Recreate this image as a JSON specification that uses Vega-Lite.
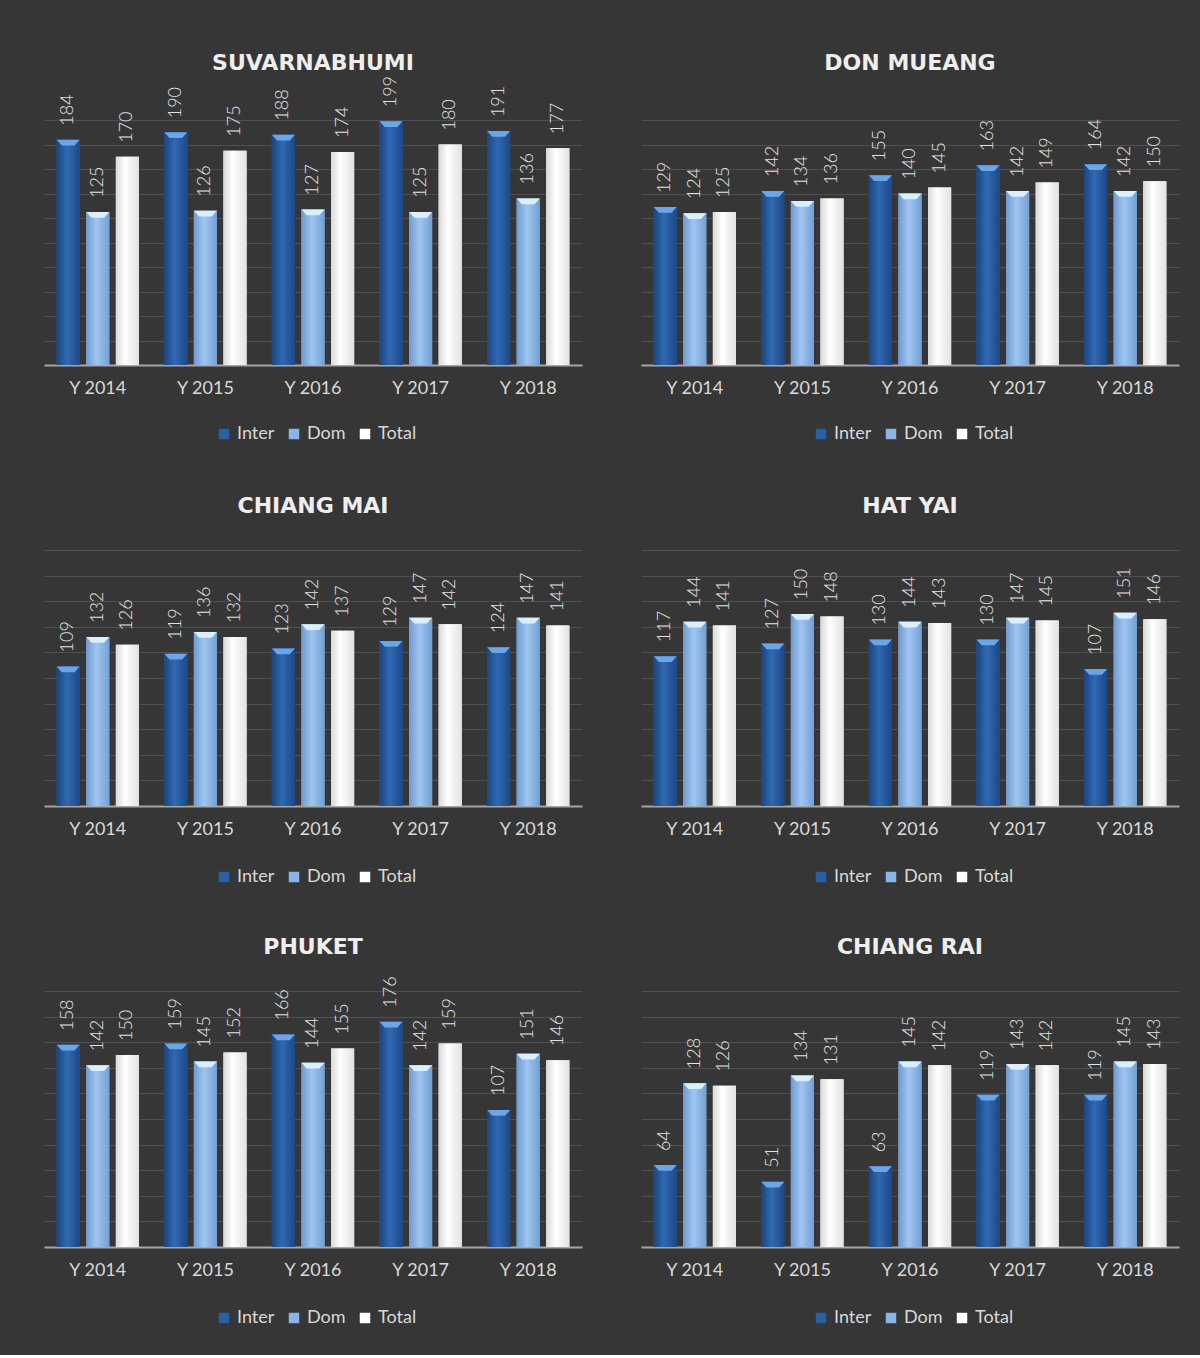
{
  "$schema": "https://vega.github.io/schema/vega-lite/v6.json",
  "background": "#363636",
  "padding": {"left": 44, "right": 21, "top": 52, "bottom": 28},
  "datasets": {
    "airports": [
      {"airport": "SUVARNABHUMI", "year": "Y 2014", "series": "Inter", "value": 184},
      {"airport": "SUVARNABHUMI", "year": "Y 2014", "series": "Dom", "value": 125},
      {"airport": "SUVARNABHUMI", "year": "Y 2014", "series": "Total", "value": 170},
      {"airport": "SUVARNABHUMI", "year": "Y 2015", "series": "Inter", "value": 190},
      {"airport": "SUVARNABHUMI", "year": "Y 2015", "series": "Dom", "value": 126},
      {"airport": "SUVARNABHUMI", "year": "Y 2015", "series": "Total", "value": 175},
      {"airport": "SUVARNABHUMI", "year": "Y 2016", "series": "Inter", "value": 188},
      {"airport": "SUVARNABHUMI", "year": "Y 2016", "series": "Dom", "value": 127},
      {"airport": "SUVARNABHUMI", "year": "Y 2016", "series": "Total", "value": 174},
      {"airport": "SUVARNABHUMI", "year": "Y 2017", "series": "Inter", "value": 199},
      {"airport": "SUVARNABHUMI", "year": "Y 2017", "series": "Dom", "value": 125},
      {"airport": "SUVARNABHUMI", "year": "Y 2017", "series": "Total", "value": 180},
      {"airport": "SUVARNABHUMI", "year": "Y 2018", "series": "Inter", "value": 191},
      {"airport": "SUVARNABHUMI", "year": "Y 2018", "series": "Dom", "value": 136},
      {"airport": "SUVARNABHUMI", "year": "Y 2018", "series": "Total", "value": 177},
      {"airport": "DON MUEANG", "year": "Y 2014", "series": "Inter", "value": 129},
      {"airport": "DON MUEANG", "year": "Y 2014", "series": "Dom", "value": 124},
      {"airport": "DON MUEANG", "year": "Y 2014", "series": "Total", "value": 125},
      {"airport": "DON MUEANG", "year": "Y 2015", "series": "Inter", "value": 142},
      {"airport": "DON MUEANG", "year": "Y 2015", "series": "Dom", "value": 134},
      {"airport": "DON MUEANG", "year": "Y 2015", "series": "Total", "value": 136},
      {"airport": "DON MUEANG", "year": "Y 2016", "series": "Inter", "value": 155},
      {"airport": "DON MUEANG", "year": "Y 2016", "series": "Dom", "value": 140},
      {"airport": "DON MUEANG", "year": "Y 2016", "series": "Total", "value": 145},
      {"airport": "DON MUEANG", "year": "Y 2017", "series": "Inter", "value": 163},
      {"airport": "DON MUEANG", "year": "Y 2017", "series": "Dom", "value": 142},
      {"airport": "DON MUEANG", "year": "Y 2017", "series": "Total", "value": 149},
      {"airport": "DON MUEANG", "year": "Y 2018", "series": "Inter", "value": 164},
      {"airport": "DON MUEANG", "year": "Y 2018", "series": "Dom", "value": 142},
      {"airport": "DON MUEANG", "year": "Y 2018", "series": "Total", "value": 150},
      {"airport": "CHIANG MAI", "year": "Y 2014", "series": "Inter", "value": 109},
      {"airport": "CHIANG MAI", "year": "Y 2014", "series": "Dom", "value": 132},
      {"airport": "CHIANG MAI", "year": "Y 2014", "series": "Total", "value": 126},
      {"airport": "CHIANG MAI", "year": "Y 2015", "series": "Inter", "value": 119},
      {"airport": "CHIANG MAI", "year": "Y 2015", "series": "Dom", "value": 136},
      {"airport": "CHIANG MAI", "year": "Y 2015", "series": "Total", "value": 132},
      {"airport": "CHIANG MAI", "year": "Y 2016", "series": "Inter", "value": 123},
      {"airport": "CHIANG MAI", "year": "Y 2016", "series": "Dom", "value": 142},
      {"airport": "CHIANG MAI", "year": "Y 2016", "series": "Total", "value": 137},
      {"airport": "CHIANG MAI", "year": "Y 2017", "series": "Inter", "value": 129},
      {"airport": "CHIANG MAI", "year": "Y 2017", "series": "Dom", "value": 147},
      {"airport": "CHIANG MAI", "year": "Y 2017", "series": "Total", "value": 142},
      {"airport": "CHIANG MAI", "year": "Y 2018", "series": "Inter", "value": 124},
      {"airport": "CHIANG MAI", "year": "Y 2018", "series": "Dom", "value": 147},
      {"airport": "CHIANG MAI", "year": "Y 2018", "series": "Total", "value": 141},
      {"airport": "HAT YAI", "year": "Y 2014", "series": "Inter", "value": 117},
      {"airport": "HAT YAI", "year": "Y 2014", "series": "Dom", "value": 144},
      {"airport": "HAT YAI", "year": "Y 2014", "series": "Total", "value": 141},
      {"airport": "HAT YAI", "year": "Y 2015", "series": "Inter", "value": 127},
      {"airport": "HAT YAI", "year": "Y 2015", "series": "Dom", "value": 150},
      {"airport": "HAT YAI", "year": "Y 2015", "series": "Total", "value": 148},
      {"airport": "HAT YAI", "year": "Y 2016", "series": "Inter", "value": 130},
      {"airport": "HAT YAI", "year": "Y 2016", "series": "Dom", "value": 144},
      {"airport": "HAT YAI", "year": "Y 2016", "series": "Total", "value": 143},
      {"airport": "HAT YAI", "year": "Y 2017", "series": "Inter", "value": 130},
      {"airport": "HAT YAI", "year": "Y 2017", "series": "Dom", "value": 147},
      {"airport": "HAT YAI", "year": "Y 2017", "series": "Total", "value": 145},
      {"airport": "HAT YAI", "year": "Y 2018", "series": "Inter", "value": 107},
      {"airport": "HAT YAI", "year": "Y 2018", "series": "Dom", "value": 151},
      {"airport": "HAT YAI", "year": "Y 2018", "series": "Total", "value": 146},
      {"airport": "PHUKET", "year": "Y 2014", "series": "Inter", "value": 158},
      {"airport": "PHUKET", "year": "Y 2014", "series": "Dom", "value": 142},
      {"airport": "PHUKET", "year": "Y 2014", "series": "Total", "value": 150},
      {"airport": "PHUKET", "year": "Y 2015", "series": "Inter", "value": 159},
      {"airport": "PHUKET", "year": "Y 2015", "series": "Dom", "value": 145},
      {"airport": "PHUKET", "year": "Y 2015", "series": "Total", "value": 152},
      {"airport": "PHUKET", "year": "Y 2016", "series": "Inter", "value": 166},
      {"airport": "PHUKET", "year": "Y 2016", "series": "Dom", "value": 144},
      {"airport": "PHUKET", "year": "Y 2016", "series": "Total", "value": 155},
      {"airport": "PHUKET", "year": "Y 2017", "series": "Inter", "value": 176},
      {"airport": "PHUKET", "year": "Y 2017", "series": "Dom", "value": 142},
      {"airport": "PHUKET", "year": "Y 2017", "series": "Total", "value": 159},
      {"airport": "PHUKET", "year": "Y 2018", "series": "Inter", "value": 107},
      {"airport": "PHUKET", "year": "Y 2018", "series": "Dom", "value": 151},
      {"airport": "PHUKET", "year": "Y 2018", "series": "Total", "value": 146},
      {"airport": "CHIANG RAI", "year": "Y 2014", "series": "Inter", "value": 64},
      {"airport": "CHIANG RAI", "year": "Y 2014", "series": "Dom", "value": 128},
      {"airport": "CHIANG RAI", "year": "Y 2014", "series": "Total", "value": 126},
      {"airport": "CHIANG RAI", "year": "Y 2015", "series": "Inter", "value": 51},
      {"airport": "CHIANG RAI", "year": "Y 2015", "series": "Dom", "value": 134},
      {"airport": "CHIANG RAI", "year": "Y 2015", "series": "Total", "value": 131},
      {"airport": "CHIANG RAI", "year": "Y 2016", "series": "Inter", "value": 63},
      {"airport": "CHIANG RAI", "year": "Y 2016", "series": "Dom", "value": 145},
      {"airport": "CHIANG RAI", "year": "Y 2016", "series": "Total", "value": 142},
      {"airport": "CHIANG RAI", "year": "Y 2017", "series": "Inter", "value": 119},
      {"airport": "CHIANG RAI", "year": "Y 2017", "series": "Dom", "value": 143},
      {"airport": "CHIANG RAI", "year": "Y 2017", "series": "Total", "value": 142},
      {"airport": "CHIANG RAI", "year": "Y 2018", "series": "Inter", "value": 119},
      {"airport": "CHIANG RAI", "year": "Y 2018", "series": "Dom", "value": 145},
      {"airport": "CHIANG RAI", "year": "Y 2018", "series": "Total", "value": 143}
    ]
  },
  "data": {"name": "airports"},
  "columns": 2,
  "bounds": "flush",
  "spacing": {"row": 152, "column": 59},
  "resolve": {"scale": {"y": "independent", "color": "independent", "x": "independent", "xOffset": "independent"}, "legend": {"color": "independent"}},
  "concat": [
    {
      "title": "SUVARNABHUMI",
      "width": 538, "height": 291,
      "transform": [{"filter": "datum.airport === 'SUVARNABHUMI'"}],
      "encoding": {
        "x": {"field": "year", "type": "nominal", "sort": null, "scale": {"paddingInner": 0.18, "paddingOuter": 0.09}},
        "xOffset": {"field": "series", "type": "nominal", "sort": ["Inter", "Dom", "Total"], "scale": {"domain": ["Inter", "Dom", "Total"], "paddingInner": 0.22, "paddingOuter": 0.1}},
        "y": {"field": "value", "type": "quantitative", "scale": {"domain": [0, 237.6], "nice": false, "zero": true}, "axis": {"values": [0, 20, 40, 60, 80, 100, 120, 140, 160, 180, 200]}}
      },
      "layer": [
        {"mark": {"type": "bar"}, "encoding": {"color": {"field": "series", "type": "nominal", "scale": {"domain": ["Inter", "Dom", "Total"], "range": ["#2a5fa6", "#8ab4e6", "#ffffff"]}}}},
        {"transform": [{"filter": "datum.series === 'Inter'"}], "mark": {"type": "bar", "color": {"gradient": "linear", "x1": 0, "x2": 1, "y1": 0, "y2": 0, "stops": [{"offset": 0, "color": "#1b4580"}, {"offset": 0.45, "color": "#3069b3"}, {"offset": 1, "color": "#1d4886"}]}}},
        {"transform": [{"filter": "datum.series === 'Dom'"}], "mark": {"type": "bar", "color": {"gradient": "linear", "x1": 0, "x2": 1, "y1": 0, "y2": 0, "stops": [{"offset": 0, "color": "#6e9bd2"}, {"offset": 0.45, "color": "#a0c6f0"}, {"offset": 1, "color": "#729fd5"}]}}},
        {"transform": [{"filter": "datum.series === 'Total'"}], "mark": {"type": "bar", "color": {"gradient": "linear", "x1": 0, "x2": 1, "y1": 0, "y2": 0, "stops": [{"offset": 0, "color": "#d9d9d9"}, {"offset": 0.4, "color": "#ffffff"}, {"offset": 1, "color": "#e2e2e2"}]}}},
        {"transform": [{"filter": "datum.series === 'Inter'"}], "mark": {"type": "point", "shape": "M-1,0L1,0L0.55,0.5L-0.55,0.5Z", "size": 529, "filled": true, "opacity": 1, "color": "#6aa6e8"}},
        {"transform": [{"filter": "datum.series === 'Dom'"}], "mark": {"type": "point", "shape": "M-1,0L1,0L0.55,0.5L-0.55,0.5Z", "size": 529, "filled": true, "opacity": 1, "color": "#dcefff"}},
        {"mark": {"type": "text", "angle": 270, "align": "left", "baseline": "middle", "dx": 14, "color": "#e3e3e3", "font": "Lato", "fontSize": 18, "fontWeight": 300}, "encoding": {"text": {"field": "value", "type": "quantitative"}}}
      ]
    },
    {
      "title": "DON MUEANG",
      "width": 538, "height": 291,
      "transform": [{"filter": "datum.airport === 'DON MUEANG'"}],
      "encoding": {
        "x": {"field": "year", "type": "nominal", "sort": null, "scale": {"paddingInner": 0.18, "paddingOuter": 0.09}},
        "xOffset": {"field": "series", "type": "nominal", "sort": ["Inter", "Dom", "Total"], "scale": {"domain": ["Inter", "Dom", "Total"], "paddingInner": 0.22, "paddingOuter": 0.1}},
        "y": {"field": "value", "type": "quantitative", "scale": {"domain": [0, 237.6], "nice": false, "zero": true}, "axis": {"values": [0, 20, 40, 60, 80, 100, 120, 140, 160, 180, 200]}}
      },
      "layer": [
        {"mark": {"type": "bar"}, "encoding": {"color": {"field": "series", "type": "nominal", "scale": {"domain": ["Inter", "Dom", "Total"], "range": ["#2a5fa6", "#8ab4e6", "#ffffff"]}}}},
        {"transform": [{"filter": "datum.series === 'Inter'"}], "mark": {"type": "bar", "color": {"gradient": "linear", "x1": 0, "x2": 1, "y1": 0, "y2": 0, "stops": [{"offset": 0, "color": "#1b4580"}, {"offset": 0.45, "color": "#3069b3"}, {"offset": 1, "color": "#1d4886"}]}}},
        {"transform": [{"filter": "datum.series === 'Dom'"}], "mark": {"type": "bar", "color": {"gradient": "linear", "x1": 0, "x2": 1, "y1": 0, "y2": 0, "stops": [{"offset": 0, "color": "#6e9bd2"}, {"offset": 0.45, "color": "#a0c6f0"}, {"offset": 1, "color": "#729fd5"}]}}},
        {"transform": [{"filter": "datum.series === 'Total'"}], "mark": {"type": "bar", "color": {"gradient": "linear", "x1": 0, "x2": 1, "y1": 0, "y2": 0, "stops": [{"offset": 0, "color": "#d9d9d9"}, {"offset": 0.4, "color": "#ffffff"}, {"offset": 1, "color": "#e2e2e2"}]}}},
        {"transform": [{"filter": "datum.series === 'Inter'"}], "mark": {"type": "point", "shape": "M-1,0L1,0L0.55,0.5L-0.55,0.5Z", "size": 529, "filled": true, "opacity": 1, "color": "#6aa6e8"}},
        {"transform": [{"filter": "datum.series === 'Dom'"}], "mark": {"type": "point", "shape": "M-1,0L1,0L0.55,0.5L-0.55,0.5Z", "size": 529, "filled": true, "opacity": 1, "color": "#dcefff"}},
        {"mark": {"type": "text", "angle": 270, "align": "left", "baseline": "middle", "dx": 14, "color": "#e3e3e3", "font": "Lato", "fontSize": 18, "fontWeight": 300}, "encoding": {"text": {"field": "value", "type": "quantitative"}}}
      ]
    },
    {
      "title": "CHIANG MAI",
      "width": 538, "height": 289,
      "transform": [{"filter": "datum.airport === 'CHIANG MAI'"}],
      "encoding": {
        "x": {"field": "year", "type": "nominal", "sort": null, "scale": {"paddingInner": 0.18, "paddingOuter": 0.09}},
        "xOffset": {"field": "series", "type": "nominal", "sort": ["Inter", "Dom", "Total"], "scale": {"domain": ["Inter", "Dom", "Total"], "paddingInner": 0.22, "paddingOuter": 0.1}},
        "y": {"field": "value", "type": "quantitative", "scale": {"domain": [0, 225.8], "nice": false, "zero": true}, "axis": {"values": [0, 20, 40, 60, 80, 100, 120, 140, 160, 180, 200]}}
      },
      "layer": [
        {"mark": {"type": "bar"}, "encoding": {"color": {"field": "series", "type": "nominal", "scale": {"domain": ["Inter", "Dom", "Total"], "range": ["#2a5fa6", "#8ab4e6", "#ffffff"]}}}},
        {"transform": [{"filter": "datum.series === 'Inter'"}], "mark": {"type": "bar", "color": {"gradient": "linear", "x1": 0, "x2": 1, "y1": 0, "y2": 0, "stops": [{"offset": 0, "color": "#1b4580"}, {"offset": 0.45, "color": "#3069b3"}, {"offset": 1, "color": "#1d4886"}]}}},
        {"transform": [{"filter": "datum.series === 'Dom'"}], "mark": {"type": "bar", "color": {"gradient": "linear", "x1": 0, "x2": 1, "y1": 0, "y2": 0, "stops": [{"offset": 0, "color": "#6e9bd2"}, {"offset": 0.45, "color": "#a0c6f0"}, {"offset": 1, "color": "#729fd5"}]}}},
        {"transform": [{"filter": "datum.series === 'Total'"}], "mark": {"type": "bar", "color": {"gradient": "linear", "x1": 0, "x2": 1, "y1": 0, "y2": 0, "stops": [{"offset": 0, "color": "#d9d9d9"}, {"offset": 0.4, "color": "#ffffff"}, {"offset": 1, "color": "#e2e2e2"}]}}},
        {"transform": [{"filter": "datum.series === 'Inter'"}], "mark": {"type": "point", "shape": "M-1,0L1,0L0.55,0.5L-0.55,0.5Z", "size": 529, "filled": true, "opacity": 1, "color": "#6aa6e8"}},
        {"transform": [{"filter": "datum.series === 'Dom'"}], "mark": {"type": "point", "shape": "M-1,0L1,0L0.55,0.5L-0.55,0.5Z", "size": 529, "filled": true, "opacity": 1, "color": "#dcefff"}},
        {"mark": {"type": "text", "angle": 270, "align": "left", "baseline": "middle", "dx": 14, "color": "#e3e3e3", "font": "Lato", "fontSize": 18, "fontWeight": 300}, "encoding": {"text": {"field": "value", "type": "quantitative"}}}
      ]
    },
    {
      "title": "HAT YAI",
      "width": 538, "height": 289,
      "transform": [{"filter": "datum.airport === 'HAT YAI'"}],
      "encoding": {
        "x": {"field": "year", "type": "nominal", "sort": null, "scale": {"paddingInner": 0.18, "paddingOuter": 0.09}},
        "xOffset": {"field": "series", "type": "nominal", "sort": ["Inter", "Dom", "Total"], "scale": {"domain": ["Inter", "Dom", "Total"], "paddingInner": 0.22, "paddingOuter": 0.1}},
        "y": {"field": "value", "type": "quantitative", "scale": {"domain": [0, 225.8], "nice": false, "zero": true}, "axis": {"values": [0, 20, 40, 60, 80, 100, 120, 140, 160, 180, 200]}}
      },
      "layer": [
        {"mark": {"type": "bar"}, "encoding": {"color": {"field": "series", "type": "nominal", "scale": {"domain": ["Inter", "Dom", "Total"], "range": ["#2a5fa6", "#8ab4e6", "#ffffff"]}}}},
        {"transform": [{"filter": "datum.series === 'Inter'"}], "mark": {"type": "bar", "color": {"gradient": "linear", "x1": 0, "x2": 1, "y1": 0, "y2": 0, "stops": [{"offset": 0, "color": "#1b4580"}, {"offset": 0.45, "color": "#3069b3"}, {"offset": 1, "color": "#1d4886"}]}}},
        {"transform": [{"filter": "datum.series === 'Dom'"}], "mark": {"type": "bar", "color": {"gradient": "linear", "x1": 0, "x2": 1, "y1": 0, "y2": 0, "stops": [{"offset": 0, "color": "#6e9bd2"}, {"offset": 0.45, "color": "#a0c6f0"}, {"offset": 1, "color": "#729fd5"}]}}},
        {"transform": [{"filter": "datum.series === 'Total'"}], "mark": {"type": "bar", "color": {"gradient": "linear", "x1": 0, "x2": 1, "y1": 0, "y2": 0, "stops": [{"offset": 0, "color": "#d9d9d9"}, {"offset": 0.4, "color": "#ffffff"}, {"offset": 1, "color": "#e2e2e2"}]}}},
        {"transform": [{"filter": "datum.series === 'Inter'"}], "mark": {"type": "point", "shape": "M-1,0L1,0L0.55,0.5L-0.55,0.5Z", "size": 529, "filled": true, "opacity": 1, "color": "#6aa6e8"}},
        {"transform": [{"filter": "datum.series === 'Dom'"}], "mark": {"type": "point", "shape": "M-1,0L1,0L0.55,0.5L-0.55,0.5Z", "size": 529, "filled": true, "opacity": 1, "color": "#dcefff"}},
        {"mark": {"type": "text", "angle": 270, "align": "left", "baseline": "middle", "dx": 14, "color": "#e3e3e3", "font": "Lato", "fontSize": 18, "fontWeight": 300}, "encoding": {"text": {"field": "value", "type": "quantitative"}}}
      ]
    },
    {
      "title": "PHUKET",
      "width": 538, "height": 289,
      "transform": [{"filter": "datum.airport === 'PHUKET'"}],
      "encoding": {
        "x": {"field": "year", "type": "nominal", "sort": null, "scale": {"paddingInner": 0.18, "paddingOuter": 0.09}},
        "xOffset": {"field": "series", "type": "nominal", "sort": ["Inter", "Dom", "Total"], "scale": {"domain": ["Inter", "Dom", "Total"], "paddingInner": 0.22, "paddingOuter": 0.1}},
        "y": {"field": "value", "type": "quantitative", "scale": {"domain": [0, 225.8], "nice": false, "zero": true}, "axis": {"values": [0, 20, 40, 60, 80, 100, 120, 140, 160, 180, 200]}}
      },
      "layer": [
        {"mark": {"type": "bar"}, "encoding": {"color": {"field": "series", "type": "nominal", "scale": {"domain": ["Inter", "Dom", "Total"], "range": ["#2a5fa6", "#8ab4e6", "#ffffff"]}}}},
        {"transform": [{"filter": "datum.series === 'Inter'"}], "mark": {"type": "bar", "color": {"gradient": "linear", "x1": 0, "x2": 1, "y1": 0, "y2": 0, "stops": [{"offset": 0, "color": "#1b4580"}, {"offset": 0.45, "color": "#3069b3"}, {"offset": 1, "color": "#1d4886"}]}}},
        {"transform": [{"filter": "datum.series === 'Dom'"}], "mark": {"type": "bar", "color": {"gradient": "linear", "x1": 0, "x2": 1, "y1": 0, "y2": 0, "stops": [{"offset": 0, "color": "#6e9bd2"}, {"offset": 0.45, "color": "#a0c6f0"}, {"offset": 1, "color": "#729fd5"}]}}},
        {"transform": [{"filter": "datum.series === 'Total'"}], "mark": {"type": "bar", "color": {"gradient": "linear", "x1": 0, "x2": 1, "y1": 0, "y2": 0, "stops": [{"offset": 0, "color": "#d9d9d9"}, {"offset": 0.4, "color": "#ffffff"}, {"offset": 1, "color": "#e2e2e2"}]}}},
        {"transform": [{"filter": "datum.series === 'Inter'"}], "mark": {"type": "point", "shape": "M-1,0L1,0L0.55,0.5L-0.55,0.5Z", "size": 529, "filled": true, "opacity": 1, "color": "#6aa6e8"}},
        {"transform": [{"filter": "datum.series === 'Dom'"}], "mark": {"type": "point", "shape": "M-1,0L1,0L0.55,0.5L-0.55,0.5Z", "size": 529, "filled": true, "opacity": 1, "color": "#dcefff"}},
        {"mark": {"type": "text", "angle": 270, "align": "left", "baseline": "middle", "dx": 14, "color": "#e3e3e3", "font": "Lato", "fontSize": 18, "fontWeight": 300}, "encoding": {"text": {"field": "value", "type": "quantitative"}}}
      ]
    },
    {
      "title": "CHIANG RAI",
      "width": 538, "height": 289,
      "transform": [{"filter": "datum.airport === 'CHIANG RAI'"}],
      "encoding": {
        "x": {"field": "year", "type": "nominal", "sort": null, "scale": {"paddingInner": 0.18, "paddingOuter": 0.09}},
        "xOffset": {"field": "series", "type": "nominal", "sort": ["Inter", "Dom", "Total"], "scale": {"domain": ["Inter", "Dom", "Total"], "paddingInner": 0.22, "paddingOuter": 0.1}},
        "y": {"field": "value", "type": "quantitative", "scale": {"domain": [0, 225.8], "nice": false, "zero": true}, "axis": {"values": [0, 20, 40, 60, 80, 100, 120, 140, 160, 180, 200]}}
      },
      "layer": [
        {"mark": {"type": "bar"}, "encoding": {"color": {"field": "series", "type": "nominal", "scale": {"domain": ["Inter", "Dom", "Total"], "range": ["#2a5fa6", "#8ab4e6", "#ffffff"]}}}},
        {"transform": [{"filter": "datum.series === 'Inter'"}], "mark": {"type": "bar", "color": {"gradient": "linear", "x1": 0, "x2": 1, "y1": 0, "y2": 0, "stops": [{"offset": 0, "color": "#1b4580"}, {"offset": 0.45, "color": "#3069b3"}, {"offset": 1, "color": "#1d4886"}]}}},
        {"transform": [{"filter": "datum.series === 'Dom'"}], "mark": {"type": "bar", "color": {"gradient": "linear", "x1": 0, "x2": 1, "y1": 0, "y2": 0, "stops": [{"offset": 0, "color": "#6e9bd2"}, {"offset": 0.45, "color": "#a0c6f0"}, {"offset": 1, "color": "#729fd5"}]}}},
        {"transform": [{"filter": "datum.series === 'Total'"}], "mark": {"type": "bar", "color": {"gradient": "linear", "x1": 0, "x2": 1, "y1": 0, "y2": 0, "stops": [{"offset": 0, "color": "#d9d9d9"}, {"offset": 0.4, "color": "#ffffff"}, {"offset": 1, "color": "#e2e2e2"}]}}},
        {"transform": [{"filter": "datum.series === 'Inter'"}], "mark": {"type": "point", "shape": "M-1,0L1,0L0.55,0.5L-0.55,0.5Z", "size": 529, "filled": true, "opacity": 1, "color": "#6aa6e8"}},
        {"transform": [{"filter": "datum.series === 'Dom'"}], "mark": {"type": "point", "shape": "M-1,0L1,0L0.55,0.5L-0.55,0.5Z", "size": 529, "filled": true, "opacity": 1, "color": "#dcefff"}},
        {"mark": {"type": "text", "angle": 270, "align": "left", "baseline": "middle", "dx": 14, "color": "#e3e3e3", "font": "Lato", "fontSize": 18, "fontWeight": 300}, "encoding": {"text": {"field": "value", "type": "quantitative"}}}
      ]
    }
  ],
  "config": {
    "view": {"stroke": null},
    "title": {"font": "DejaVu Sans", "fontSize": 22, "fontWeight": "bold", "color": "#eeeeee", "offset": -1, "frame": "group", "anchor": "middle"},
    "axisX": {"title": null, "labelAngle": 0, "labelFont": "Lato", "labelFontSize": 18, "labelColor": "#d9d9d9", "ticks": false, "domainColor": "#a6a6a6", "domainWidth": 2, "labelPadding": 14, "grid": false},
    "axisY": {"title": null, "labels": false, "ticks": false, "domain": false, "grid": true, "gridColor": "#505050", "gridWidth": 1, "minExtent": 0},
    "legend": {"orient": "none", "legendX": 171, "legendY": 351, "direction": "horizontal", "title": null, "symbolType": "square", "symbolSize": 110, "symbolStrokeWidth": 0, "labelFont": "Lato", "labelFontSize": 18, "labelColor": "#d9d9d9", "columnPadding": 10, "labelOffset": 4, "padding": 0}
  }
}
